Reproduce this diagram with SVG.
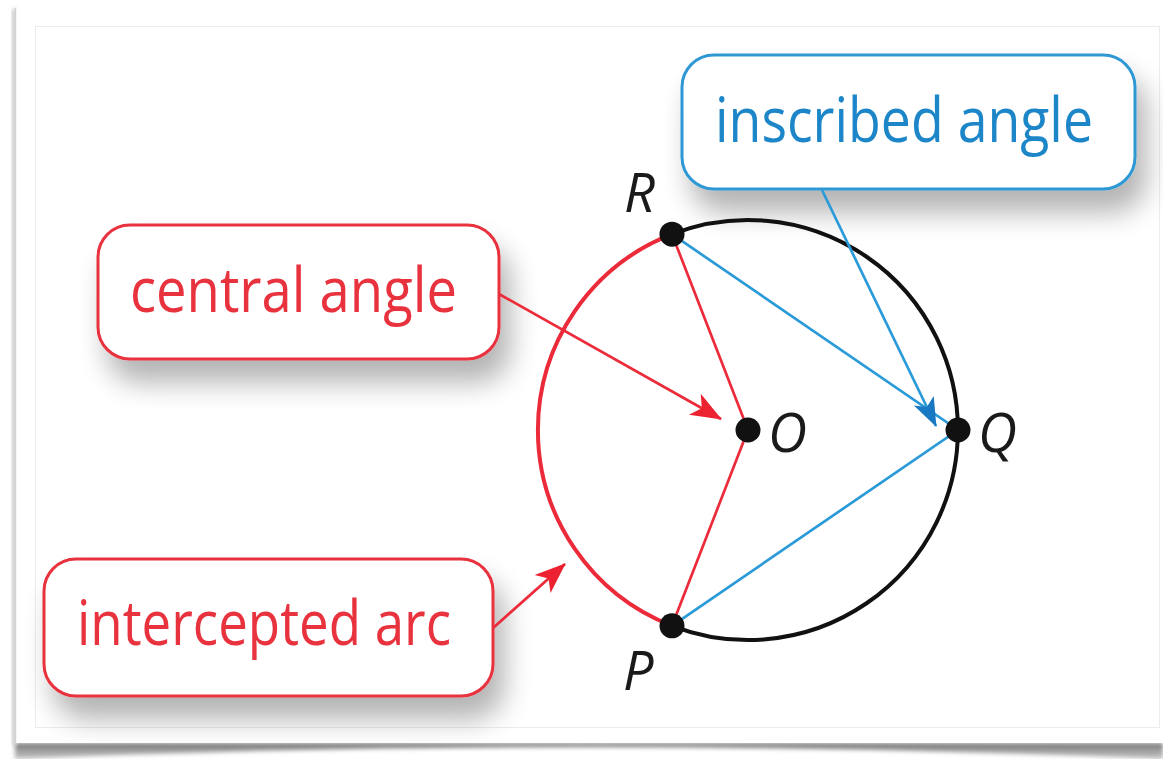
<svg xmlns="http://www.w3.org/2000/svg" width="1163" height="759" viewBox="0 0 1163 759">
  <defs>
    <filter id="boxShadow" x="-25%" y="-40%" width="160%" height="200%">
      <feGaussianBlur in="SourceAlpha" stdDeviation="14"/>
      <feOffset dx="10" dy="22" result="b"/>
      <feComponentTransfer><feFuncA type="linear" slope="0.3"/></feComponentTransfer>
      <feMerge><feMergeNode/><feMergeNode in="SourceGraphic"/></feMerge>
    </filter>
    <filter id="soft" x="-10%" y="-50%" width="120%" height="200%">
      <feGaussianBlur stdDeviation="2"/>
    </filter>
    <linearGradient id="botShadow" x1="0" y1="0" x2="0" y2="1">
      <stop offset="0" stop-color="#6e6e6e"/>
      <stop offset="0.4" stop-color="#9a9a9a"/>
      <stop offset="1" stop-color="#c4c4c4"/>
    </linearGradient>
    <marker id="arrRed" markerUnits="userSpaceOnUse" viewBox="-32 -14 36 28" refX="1" refY="0" markerWidth="36" markerHeight="28" orient="auto">
      <path d="M2,0 L-29,-12 L-21,0 L-29,12 Z" fill="#ec2230"/>
    </marker>
    <marker id="arrBlue" markerUnits="userSpaceOnUse" viewBox="-32 -14 36 28" refX="1" refY="0" markerWidth="36" markerHeight="28" orient="auto">
      <path d="M2,0 L-27,-11 L-20,0 L-27,11 Z" fill="#1878c2"/>
    </marker>
    <style>
      .box-red { fill: #ffffff; stroke: #e8303d; stroke-width: 3; }
      .box-blue { fill: #ffffff; stroke: #2f98d4; stroke-width: 3; }
      .txt { font-family: "Open Sans", "Noto Sans", sans-serif; font-size: 63px; }
      .txt-red { fill: #e8303d; }
      .txt-blue { fill: #1c86c8; }
      .lbl { font-family: "Open Sans", "Noto Sans", sans-serif; font-style: italic; font-size: 54px; fill: #1a1a1a; }
      .red-line { stroke: #ec2b3a; stroke-width: 2.7; fill: none; }
      .blue-line { stroke: #2a9ad8; stroke-width: 2.7; fill: none; }
      .dot { fill: #111111; }
    </style>
  </defs>

  <!-- page frame -->
  <rect x="0" y="0" width="1163" height="759" fill="#ffffff"/>
  <path d="M15 743 L1163 743 L1163 759 Q589 735 15 759 Z" fill="url(#botShadow)" filter="url(#soft)"/>
  <rect x="12" y="9" width="5" height="736" fill="#c8c8c8" filter="url(#soft)"/>
  <rect x="15" y="8" width="1160" height="735" fill="#ffffff"/>
  <line x1="15.5" y1="8" x2="15.5" y2="743" stroke="#d2d2d2" stroke-width="1.5"/>
  <rect x="35.5" y="26.5" width="1124" height="701" fill="#ffffff" stroke="#ececec" stroke-width="1"/>

  <!-- label boxes -->
  <g id="box-central-angle" filter="url(#boxShadow)">
    <rect class="box-red" x="98" y="225" width="401" height="134" rx="32"/>
    <text class="txt txt-red" x="130" y="312" textLength="327" lengthAdjust="spacingAndGlyphs">central angle</text>
  </g>
  <g id="box-intercepted-arc" filter="url(#boxShadow)">
    <rect class="box-red" x="44" y="559" width="449" height="137" rx="32"/>
    <text class="txt txt-red" x="77" y="645" textLength="374" lengthAdjust="spacingAndGlyphs">intercepted arc</text>
  </g>
  <g id="box-inscribed-angle" filter="url(#boxShadow)">
    <rect class="box-blue" x="682" y="55" width="453" height="134" rx="32"/>
    <text class="txt txt-blue" x="715" y="142" textLength="378" lengthAdjust="spacingAndGlyphs">inscribed angle</text>
  </g>

  <!-- circle -->
  <g id="circle">
    <path d="M672 234.2 A210 210 0 1 1 672 625.8" fill="none" stroke="#111111" stroke-width="4"/>
    <path d="M672 234.2 A210 210 0 0 0 672 625.8" fill="none" stroke="#ec2b3a" stroke-width="4"/>
  </g>

  <!-- angles (chords / radii) -->
  <g id="angles">
    <path class="red-line" d="M672 234.2 L748 430 L672 625.8"/>
    <path class="blue-line" d="M672 234.2 L958 430 L672 625.8"/>
  </g>

  <!-- connectors -->
  <g id="connectors">
    <line class="red-line" x1="499" y1="294" x2="721" y2="419" marker-end="url(#arrRed)"/>
    <line class="red-line" x1="493" y1="628" x2="565" y2="564" marker-end="url(#arrRed)"/>
    <line class="blue-line" x1="822" y1="190" x2="936" y2="426" marker-end="url(#arrBlue)"/>
  </g>

  <!-- points -->
  <g id="point-R">
    <circle class="dot" cx="672" cy="234.2" r="12.5"/>
    <text class="lbl" x="624" y="212">R</text>
  </g>
  <g id="point-O">
    <circle class="dot" cx="748" cy="430" r="12.5"/>
    <text class="lbl" x="768" y="452">O</text>
  </g>
  <g id="point-Q">
    <circle class="dot" cx="958" cy="430" r="12.5"/>
    <text class="lbl" x="978" y="452">Q</text>
  </g>
  <g id="point-P">
    <circle class="dot" cx="672" cy="625.8" r="12.5"/>
    <text class="lbl" x="623" y="690">P</text>
  </g>
</svg>
